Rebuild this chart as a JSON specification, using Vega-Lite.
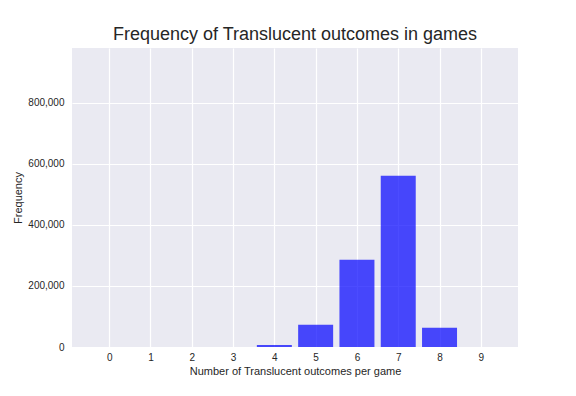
{
  "$schema": "https://vega.github.io/schema/vega-lite/v6.json",
  "width": 446,
  "height": 299,
  "autosize": {"type": "none"},
  "padding": {"left": 72, "top": 48, "right": 58, "bottom": 49},
  "background": "white",
  "title": {
    "text": "Frequency of Translucent outcomes in games",
    "font": "Liberation Sans",
    "fontSize": 18,
    "fontWeight": "normal",
    "color": "#262626",
    "anchor": "middle",
    "offset": 4
  },
  "config": {
    "view": {"fill": "#EAEAF2", "stroke": null},
    "axis": {
      "domain": false,
      "ticks": false,
      "gridColor": "white",
      "gridWidth": 1.2,
      "labelFont": "Liberation Sans",
      "labelFontSize": 10,
      "labelColor": "#262626",
      "titleFont": "Liberation Sans",
      "titleFontSize": 11,
      "titleFontWeight": "normal",
      "titleColor": "#262626"
    }
  },
  "data": {
    "values": [
      {"n": 0, "count": 0},
      {"n": 1, "count": 0},
      {"n": 2, "count": 0},
      {"n": 3, "count": 0},
      {"n": 4, "count": 6500},
      {"n": 5, "count": 73000},
      {"n": 6, "count": 286000},
      {"n": 7, "count": 561500},
      {"n": 8, "count": 63300},
      {"n": 9, "count": 0}
    ]
  },
  "mark": {"type": "bar", "color": "blue", "opacity": 0.7, "width": 35},
  "encoding": {
    "x": {
      "field": "n",
      "type": "quantitative",
      "scale": {"domain": [-0.9, 9.9], "nice": false, "zero": false, "padding": 0},
      "axis": {
        "values": [0, 1, 2, 3, 4, 5, 6, 7, 8, 9],
        "format": "d",
        "title": "Number of Translucent outcomes per game",
        "labelPadding": 5,
        "titlePadding": 3
      }
    },
    "y": {
      "field": "count",
      "type": "quantitative",
      "scale": {"domain": [0, 980000], "nice": false, "padding": 0},
      "axis": {
        "values": [0, 200000, 400000, 600000, 800000],
        "format": ",d",
        "title": "Frequency",
        "labelPadding": 8,
        "titlePadding": 4
      }
    }
  }
}
